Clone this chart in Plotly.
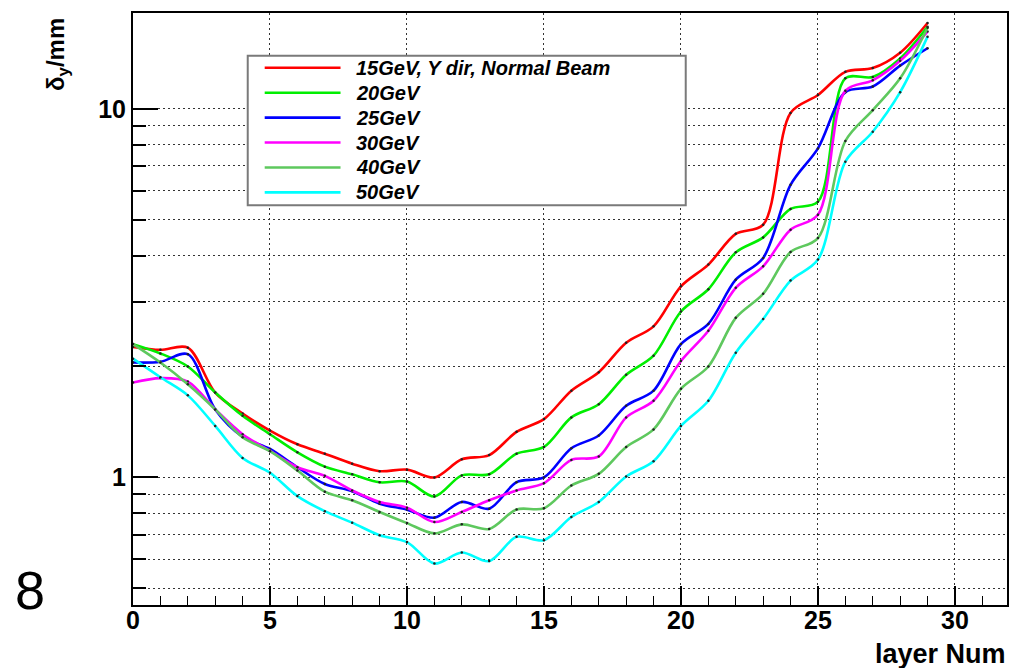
import plotly.graph_objects as go

# Layer index (0..29)
layers = list(range(30))

# Resolution delta_y [mm] per layer for each beam energy
names = ["15GeV, Y dir, Normal Beam", "20GeV", "25GeV", "30GeV", "40GeV", "50GeV"]
colors = ["#ff0000", "#00ee00", "#0000ff", "#ff00ff", "#5ec85e", "#00ffff"]

res_15 = [2.26, 2.22, 2.25, 1.70, 1.49, 1.34, 1.23, 1.16, 1.09, 1.04,
          1.05, 1.00, 1.12, 1.15, 1.33, 1.44, 1.72, 1.93, 2.32, 2.57,
          3.30, 3.78, 4.58, 4.85, 9.75, 10.9, 12.6, 12.9, 14.2, 17.1]
res_20 = [2.30, 2.17, 2.00, 1.70, 1.47, 1.31, 1.17, 1.07, 1.02, 0.97,
          0.975, 0.888, 1.013, 1.02, 1.16, 1.21, 1.455, 1.58, 1.90, 2.14,
          2.82, 3.24, 4.08, 4.48, 5.35, 5.6, 12.1, 12.2, 13.7, 16.7]
res_25 = [2.05, 2.06, 2.16, 1.53, 1.29, 1.195, 1.066, 0.96, 0.918, 0.849,
          0.818, 0.778, 0.858, 0.823, 0.971, 1.00, 1.20, 1.30, 1.565, 1.72,
          2.30, 2.61, 3.44, 3.94, 6.22, 7.81, 11.1, 11.5, 13.1, 14.6]
res_30 = [1.81, 1.86, 1.82, 1.53, 1.31, 1.18, 1.066, 1.01, 0.922, 0.858,
          0.828, 0.757, 0.806, 0.867, 0.922, 0.965, 1.116, 1.14, 1.455, 1.615,
          2.07, 2.50, 3.27, 3.74, 4.70, 5.16, 11.2, 11.95, 13.5, 16.2]
res_40 = [2.30, 2.05, 1.79, 1.53, 1.285, 1.178, 1.044, 0.915, 0.867, 0.806,
          0.752, 0.705, 0.746, 0.725, 0.819, 0.825, 0.951, 1.023, 1.21, 1.35,
          1.74, 2.00, 2.71, 3.15, 4.09, 4.46, 8.18, 9.92, 12.1, 16.6]
res_50 = [2.10, 1.87, 1.67, 1.38, 1.13, 1.03, 0.89, 0.81, 0.754, 0.697,
          0.668, 0.584, 0.626, 0.593, 0.690, 0.676, 0.781, 0.858, 1.006, 1.107,
          1.38, 1.615, 2.18, 2.69, 3.42, 3.90, 7.19, 8.67, 11.1, 15.7]
series = [res_15, res_20, res_25, res_30, res_40, res_50]

# x tick labels and log-axis ticks
x_ticks = [0, 5, 10, 15, 20, 25, 30]
y_major = [1, 10]
y_minor = [0.5, 0.6, 0.7, 0.8, 0.9, 2, 3, 4, 5, 6, 7, 8, 9]

W, H = 1020, 668
L, R, T, B = 133, 11, 11, 63
PW, PH = W - L - R, H - T - B


def fx(px):
    return (px - L) / PW


def fy(py):
    return (H - B - py) / PH


fig = go.Figure()
for name, col, vals in zip(names, colors, series):
    fig.add_trace(go.Scatter(
        x=layers, y=vals, name=name, mode="lines+markers",
        line=dict(color=col, width=2.6, shape="spline", smoothing=0.9),
        marker=dict(size=2.5, color="#222222"),
        showlegend=False,
    ))

grid_dash = "2px,3px"
grid_col = "#333333"
fig.update_layout(
    width=W, height=H,
    margin=dict(l=L, r=R, t=T, b=B),
    paper_bgcolor="white", plot_bgcolor="white",
    font=dict(family="Liberation Sans, Arial, sans-serif", color="black"),
    xaxis=dict(
        range=[0, 31.9], tickmode="array", tickvals=x_ticks,
        ticks="inside", ticklen=19, tickwidth=1.5, tickcolor="black",
        showline=True, linecolor="black", linewidth=2, mirror=True,
        showgrid=True, gridcolor=grid_col, gridwidth=1.2, griddash=grid_dash,
        zeroline=False, ticklabelstandoff=-8,
        tickfont=dict(size=25, weight="bold"),
        minor=dict(dtick=1, tick0=0, ticks="inside", ticklen=9,
                   tickwidth=1.2, tickcolor="black", showgrid=False),
    ),
    yaxis=dict(
        type="log", range=[-0.346, 1.26], tickmode="array",
        tickvals=y_major, ticktext=[str(v) for v in y_major],
        ticks="inside", ticklen=25, tickwidth=1.5, tickcolor="black",
        showline=True, linecolor="black", linewidth=2, mirror=True,
        showgrid=True, gridcolor=grid_col, gridwidth=1.2, griddash=grid_dash,
        zeroline=False,
        tickfont=dict(size=25, weight="bold"),
        minor=dict(tickmode="array", tickvals=y_minor, ticks="inside",
                   ticklen=13, tickwidth=1.5, tickcolor="black",
                   showgrid=True, gridcolor=grid_col, gridwidth=1.2,
                   griddash=grid_dash),
    ),
)

# Legend box drawn over the grid
shapes = [dict(type="rect", xref="paper", yref="paper",
               x0=fx(248), x1=fx(687), y0=fy(204), y1=fy(54),
               fillcolor="white", line=dict(color="#7a7a7a", width=2),
               layer="above")]
annotations = []
row_y = [66, 91, 116, 141, 166, 191]
for name, col, ry in zip(names, colors, row_y):
    shapes.append(dict(type="line", xref="paper", yref="paper",
                       x0=fx(265), x1=fx(341), y0=fy(ry), y1=fy(ry),
                       line=dict(color=col, width=2.6), layer="above"))
    annotations.append(dict(xref="paper", yref="paper", x=fx(355), y=fy(ry),
                            xanchor="left", yanchor="middle", showarrow=False,
                            text=name,
                            font=dict(size=20, weight="bold", style="italic")))

# Axis titles
annotations.append(dict(xref="paper", yref="paper", x=fx(1010), y=fy(654),
                        xanchor="right", yanchor="middle", showarrow=False,
                        text="layer Num", font=dict(size=27, weight="bold")))
annotations.append(dict(xref="paper", yref="paper", x=fx(58), y=fy(53),
                        xanchor="center", yanchor="middle", showarrow=False,
                        textangle=-90, text="δ<sub>y</sub>/mm",
                        font=dict(size=24, weight="bold")))
annotations.append(dict(xref="paper", yref="paper", x=fx(30), y=fy(590),
                        xanchor="center", yanchor="middle", showarrow=False,
                        text="8", font=dict(size=54)))

fig.update_layout(shapes=shapes, annotations=annotations)
fig.write_html("out.html")
